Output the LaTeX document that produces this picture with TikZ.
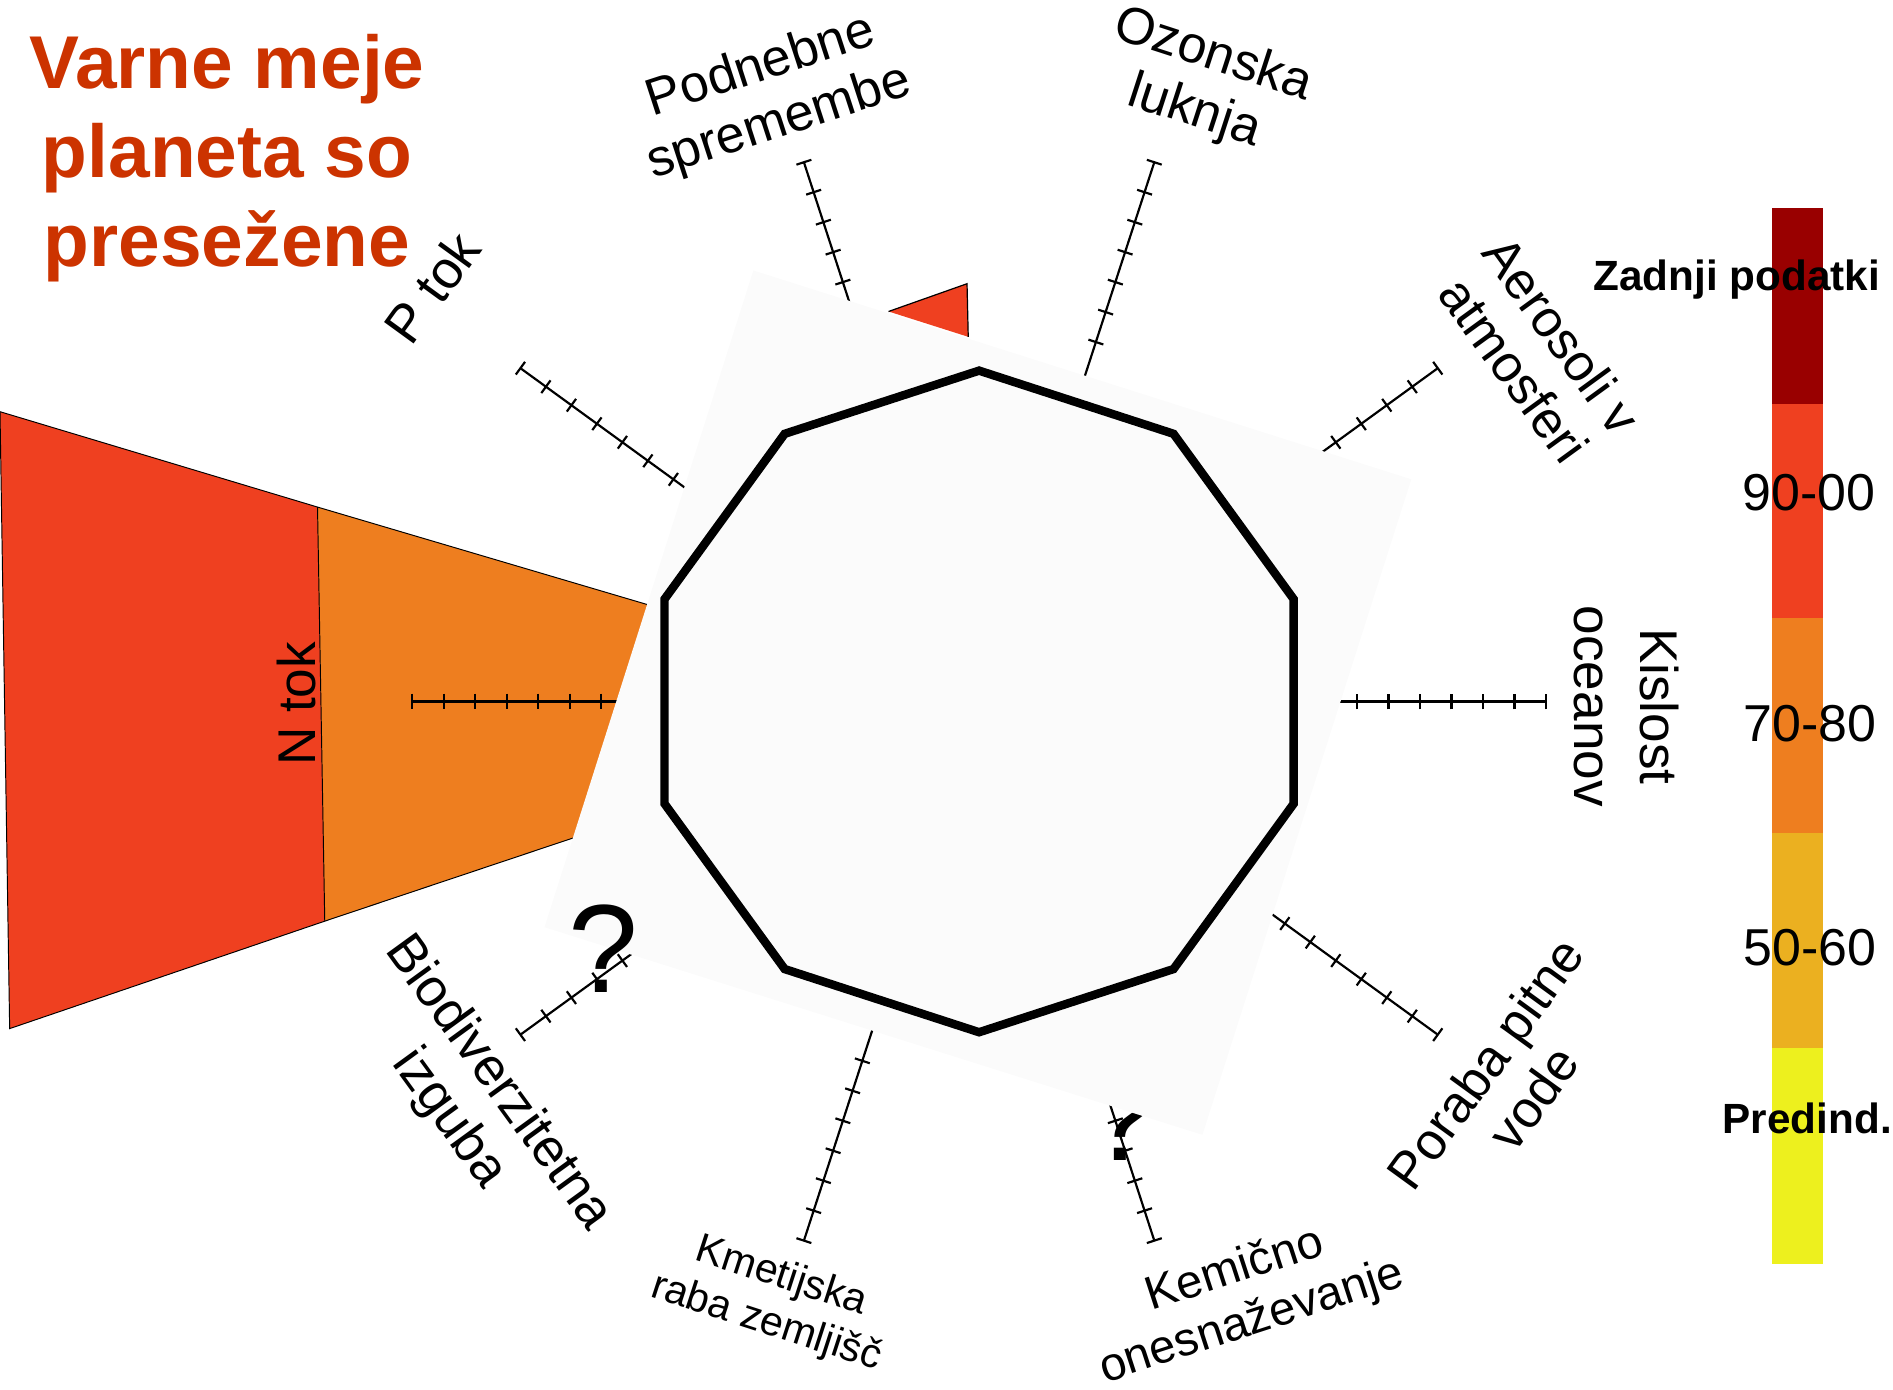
\documentclass[tikz,border=0pt]{standalone}
\usepackage{fontspec}
\setmainfont{Liberation Sans}
\definecolor{titlered}{RGB}{204,51,0}
\definecolor{bounddark}{RGB}{153,0,0}
\definecolor{boundred}{RGB}{239,64,32}
\definecolor{boundorange}{RGB}{238,126,31}
\definecolor{boundochre}{RGB}{235,176,32}
\definecolor{boundyellow}{RGB}{237,240,30}
\definecolor{panelgray}{RGB}{251,251,251}

\begin{document}
\begin{tikzpicture}[x=1pt,y=-1pt,
  spoke/.style={line width=1.8pt},
  axislabel/.style={font=\fontsize{43}{49}\selectfont, align=center, inner sep=0pt},
  smalllabel/.style={font=\fontsize{34}{40}\selectfont, align=center, inner sep=0pt},
  titleline/.style={font=\bfseries\fontsize{62}{72}\selectfont, text=titlered, anchor=base, inner sep=0pt},
  legendbold/.style={font=\bfseries\fontsize{35}{40}\selectfont, anchor=base, inner sep=0pt},
  legendnum/.style={font=\fontsize{43}{50}\selectfont, anchor=base, inner sep=0pt},
  query/.style={font=\fontsize{104}{110}\selectfont, anchor=base, inner sep=0pt},
  decagon/.style={line width=7pt, line join=miter}]
\useasboundingbox (0,0) rectangle (1568,1151);
\coordinate (ctr) at (811,581);

% nitrogen flow wedge
\fill[boundred] (0,341) -- (263,420) -- (269,763) -- (8,852) -- cycle;
\fill[boundorange] (263,420) -- (537,501) -- (475,694) -- (269,763) -- cycle;
\draw[line width=0.8pt] (537,501) -- (263,420) -- (0,341) -- (8,852) -- (269,763) -- (475,694);
\draw[line width=0.8pt] (263,420) -- (269,763);

% climate change wedge tip
\fill[boundred] (801,235) -- (736,258) -- (802,279) -- cycle;
\draw[line width=1pt] (736,258) -- (801,235) -- (802,279);

% axes with tick marks
\foreach \k in {0,...,9}{
  \pgfmathsetmacro\ang{18+36*\k}
  \draw[spoke] ({811+250*sin(\ang)},{581-250*cos(\ang)}) -- ({811+469*sin(\ang)},{581-469*cos(\ang)});
  \foreach \j in {0,...,6}{
    \pgfmathsetmacro\rr{313+26.1*\j}
    \draw[spoke] ({811+\rr*sin(\ang)+6.5*cos(\ang)},{581-\rr*cos(\ang)+6.5*sin(\ang)})
              -- ({811+\rr*sin(\ang)-6.5*cos(\ang)},{581-\rr*cos(\ang)-6.5*sin(\ang)});
  }
}

% question mark partly hidden by the panel
\node[query] (qchem) at (930,961) {?};

% light panel behind the boundaries
\fill[panelgray] (624,224) -- (1169,397) -- (996,940) -- (451,768) -- cycle;

% safe operating space
\draw[decagon] (811,307) \foreach \a in {36,72,...,324}{ -- ({811+274*sin(\a)},{581-274*cos(\a)}) } -- cycle;

\node[query] (qbio) at (500,822) {?};

% title
\node[titleline] (title1) at (188,73) {Varne meje};
\node[titleline] (title2) at (188,147) {planeta so};
\node[titleline] (title3) at (188,221) {presežene};

% boundary labels
\node[axislabel, rotate=18] (climate) at (638,79) {Podnebne\\spremembe};
\node[axislabel, rotate=-18] (ozone) at (997,70) {Ozonska\\luknja};
\node[axislabel, rotate=-54] (aerosol) at (1274,292) {Aerosoli v\\atmosferi};
\node[axislabel, rotate=-90, font=\fontsize{44}{55}\selectfont] (ocean) at (1347,585) {Kislost\\oceanov};
\node[axislabel, rotate=54] (water) at (1250,895) {Poraba pitne\\vode};
\node[axislabel, rotate=18, font=\fontsize{39}{45}\selectfont] (chem) at (1030,1074) {Kemično\\onesnaževanje};
\node[smalllabel, rotate=-18] (land) at (641,1077) {Kmetijska\\raba zemljišč};
\node[axislabel, rotate=-54, font=\fontsize{44}{50}\selectfont] (bio) at (392,912) {Biodiverzitetna\\izguba};
\node[axislabel, rotate=90, font=\fontsize{44}{50}\selectfont] (nflow) at (246,583) {N tok};
\node[axislabel, rotate=54, font=\fontsize{44}{50}\selectfont] (pflow) at (358,238) {P tok};

% legend
\fill[bounddark] (1468,172) rectangle (1510,335);
\fill[boundred] (1468,335) rectangle (1510,512);
\fill[boundorange] (1468,512) rectangle (1510,690);
\fill[boundochre] (1468,690) rectangle (1510,868);
\fill[boundyellow] (1468,868) rectangle (1510,1047);
\node[legendbold] (leglatest) at (1438.5,241) {Zadnji podatki};
\node[legendnum] (leg90) at (1498.5,423) {90-00};
\node[legendnum] (leg70) at (1499,614) {70-80};
\node[legendnum] (leg50) at (1499,800) {50-60};
\node[legendbold] (legpre) at (1497,939) {Predind.};
\end{tikzpicture}
\end{document}
